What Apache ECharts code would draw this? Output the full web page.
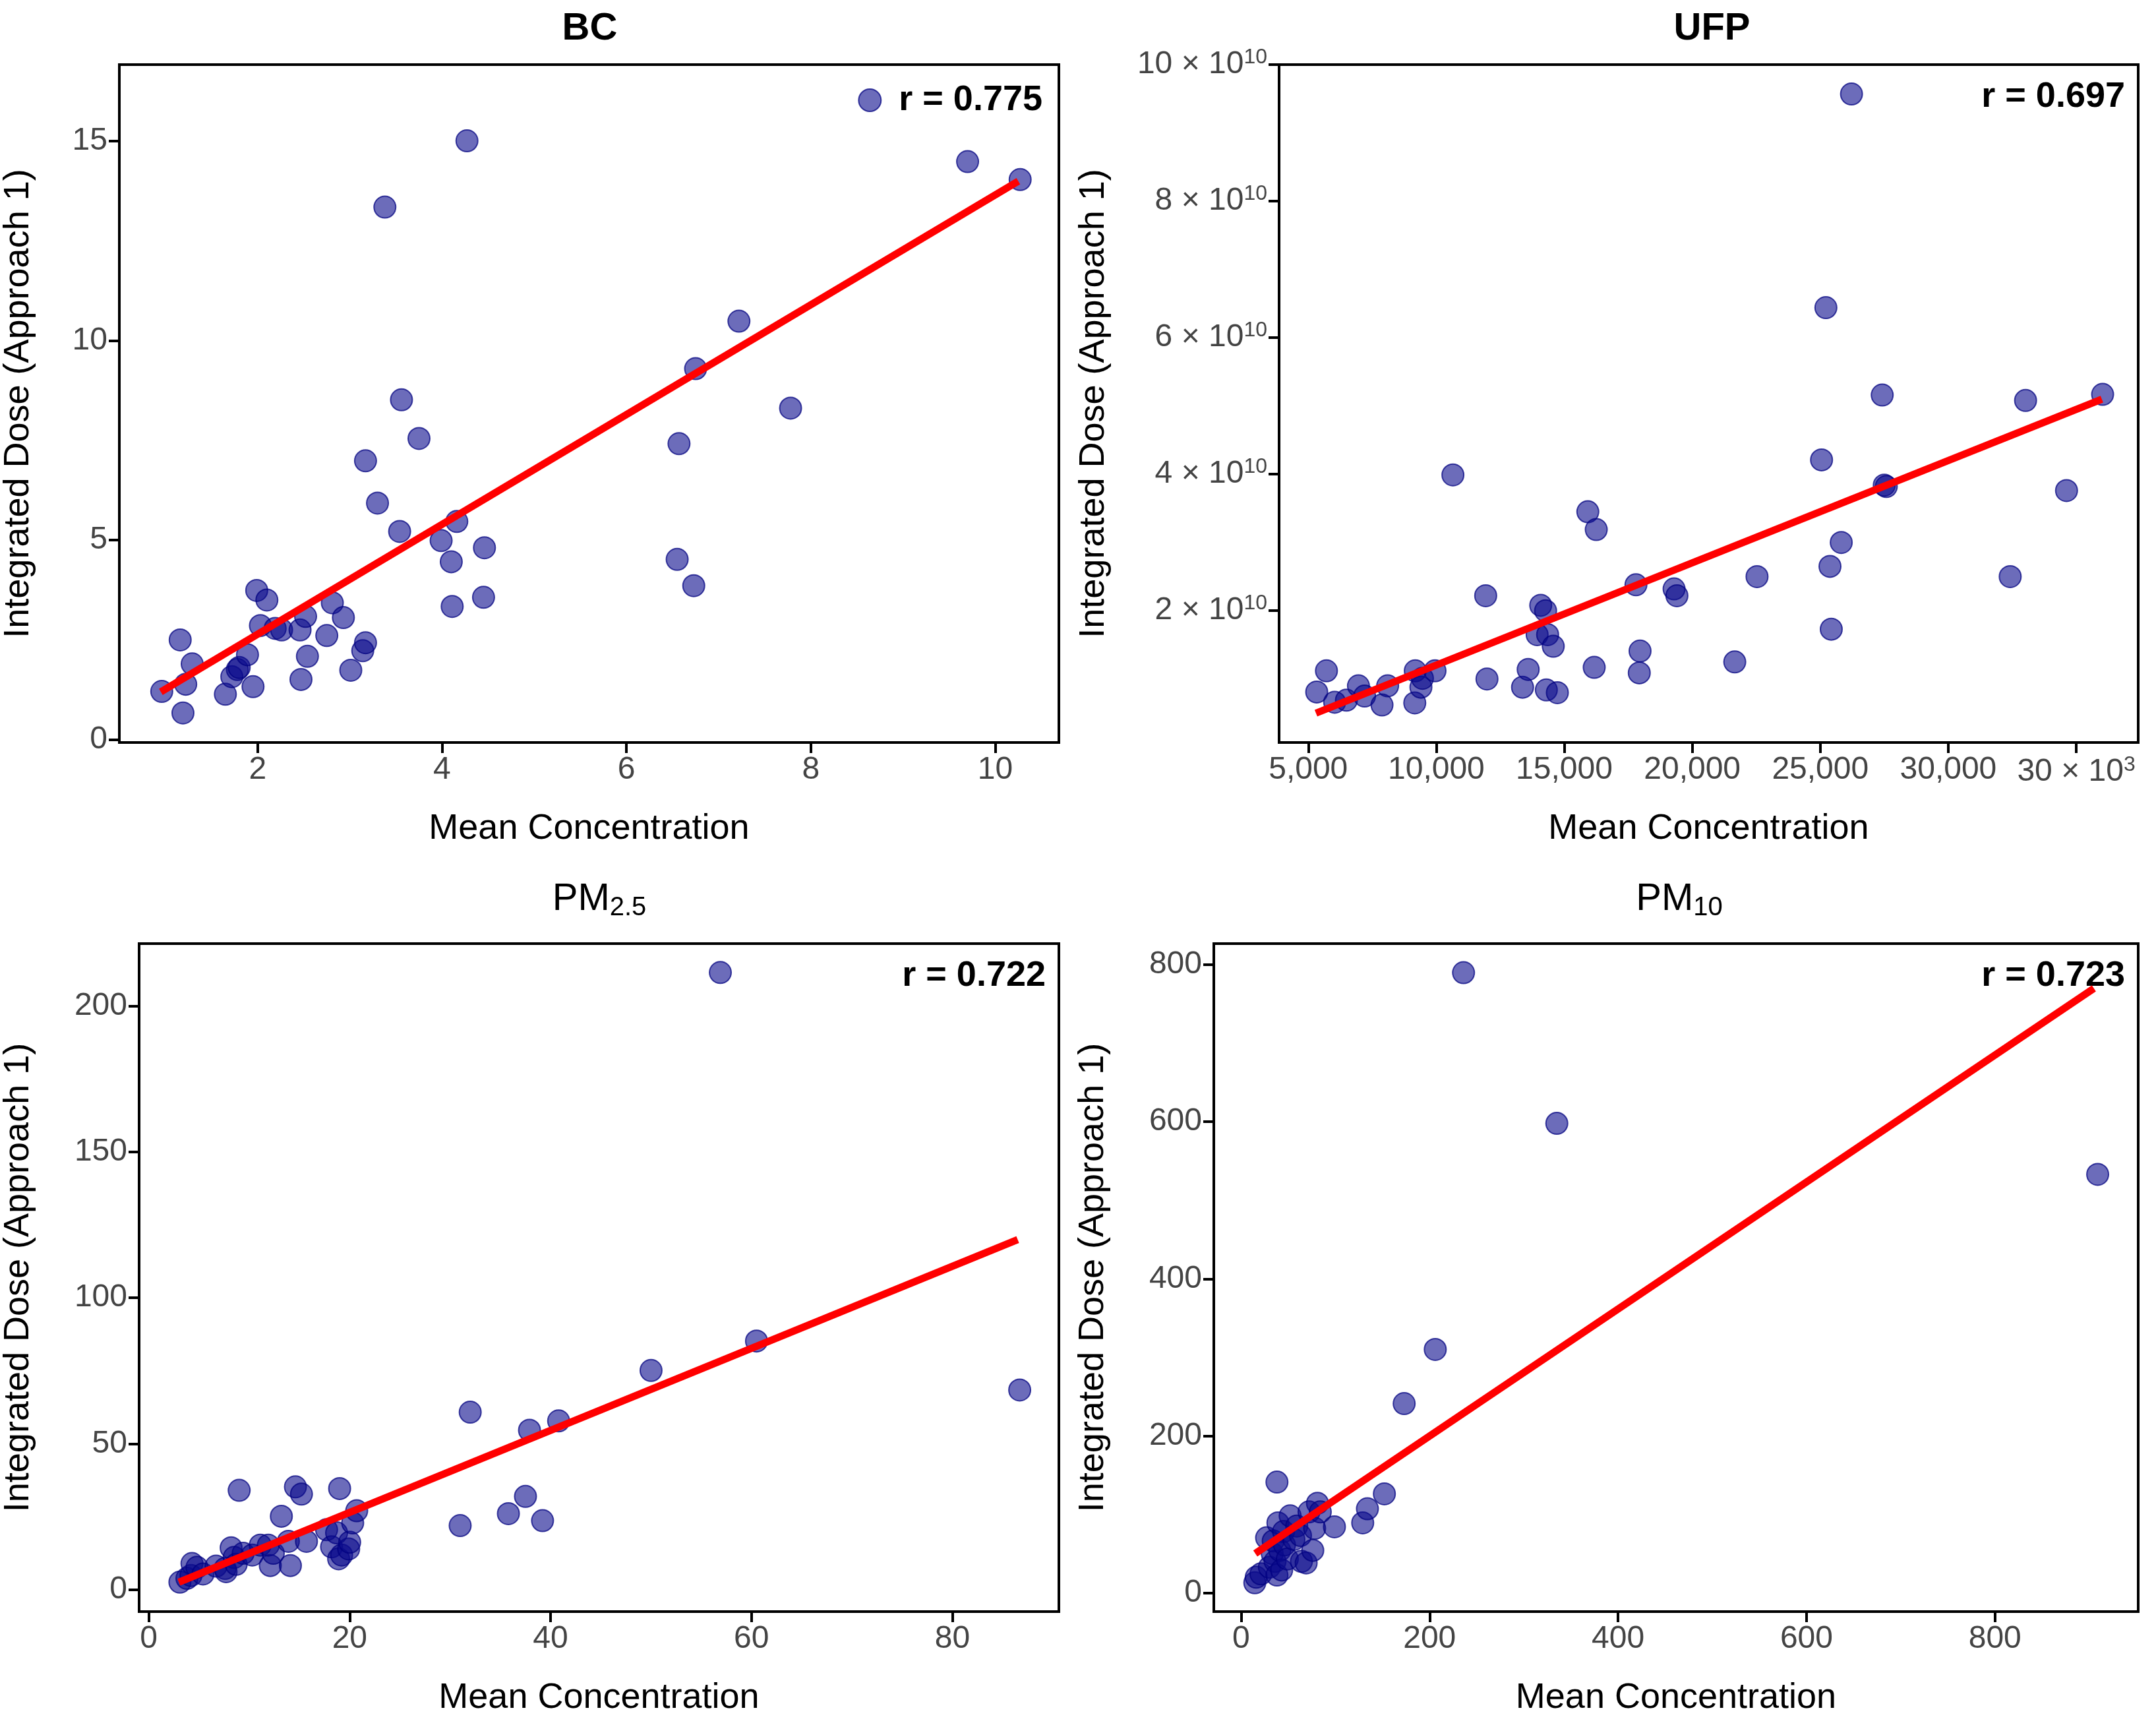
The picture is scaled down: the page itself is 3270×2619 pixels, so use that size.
<!DOCTYPE html>
<html>
<head>
<meta charset="utf-8">
<script src="https://cdn.jsdelivr.net/npm/echarts@6/dist/echarts.min.js"></script>
<style>html,body{margin:0;padding:0;background:#fff}#chart{width:3270px;height:2619px}</style>
</head>
<body>
<div id="chart"></div>
<script>
const FONT = 'Liberation Sans'

// [mean concentration, integrated dose]
const bc = [[0.96,1.21],[1.16,2.5],[1.19,0.67],[1.22,1.39],[1.29,1.9],[1.65,1.14],[1.72,1.58],[1.78,1.76],[1.8,1.81],[1.89,2.13],[1.95,1.33],[1.99,3.74],[2.03,2.86],[2.1,3.5],[2.19,2.79],[2.26,2.75],[2.46,2.75],[2.47,1.51],[2.52,3.09],[2.54,2.09],[2.75,2.61],[2.81,3.43],[2.93,3.06],[3.01,1.74],[3.14,2.23],[3.17,2.43],[3.17,6.99],[3.3,5.93],[3.38,13.35],[3.54,5.22],[3.56,8.52],[3.75,7.55],[3.99,4.99],[4.1,4.46],[4.11,3.34],[4.16,5.47],[4.27,15.01],[4.45,3.57],[4.46,4.81],[6.55,4.52],[6.57,7.42],[6.73,3.86],[6.75,9.3],[7.22,10.49],[7.78,8.31],[9.7,14.49],[10.27,14.04]]

const ufp = [[5330,0.81],[5710,1.12],[6030,0.66],[6490,0.69],[6960,0.9],[7200,0.75],[7880,0.62],[8100,0.9],[9160,0.65],[9180,1.12],[9400,0.88],[9460,1.01],[9950,1.12],[10650,3.99],[11930,2.22],[11980,1.0],[13370,0.88],[13590,1.14],[13940,1.65],[14080,2.08],[14270,2.0],[14300,0.84],[14350,1.65],[14570,1.48],[14730,0.8],[15920,3.45],[16170,1.17],[16250,3.19],[17800,2.38],[17930,1.09],[17960,1.41],[19290,2.32],[19400,2.22],[21660,1.25],[22530,2.5],[25050,4.21],[25220,6.44],[25380,2.65],[25430,1.73],[25820,3.0],[26220,9.57],[27420,5.16],[27500,3.84],[27580,3.82],[32420,2.5],[33020,5.08],[34620,3.76],[36030,5.17]].map(d => [d[0], d[1] * 1e10])

const pm25 = [[3.1,2.5],[3.8,3.8],[4.2,4.8],[4.3,8.9],[4.8,7.6],[5.4,5.3],[6.7,8.0],[7.6,7.2],[7.7,6.1],[8.2,14.3],[8.5,11.0],[8.7,8.6],[9.0,34.0],[9.4,12.4],[10.3,11.8],[11.1,15.2],[11.9,15.2],[12.1,8.2],[12.4,12.4],[13.2,25.1],[13.9,16.5],[14.1,8.2],[14.6,35.2],[15.2,32.7],[15.7,16.5],[17.7,20.5],[18.2,14.6],[18.7,19.4],[18.9,10.5],[19.0,34.6],[19.2,11.8],[19.9,13.9],[20.0,16.2],[20.3,22.8],[20.7,27.0],[31.0,21.9],[32.0,60.8],[35.8,26.0],[37.5,31.9],[37.9,54.6],[39.2,23.6],[40.8,57.8],[50.0,75.1],[60.5,85.2],[56.9,211.6],[86.7,68.4]]

const pm10 = [[14.5,12.7],[16,19.8],[21,24],[27,70],[30,32.5],[33,50],[34,66],[36,40],[38,22.6],[38,141],[39,89],[41,54],[43,29],[45,78],[46,61],[49,43],[52,98],[56,68],[59,85],[63,73],[64,40],[69,38],[72,103],[76,54],[78,82],[81,114],[84,103],[99,84],[129,89],[134,107],[152,126],[173,241],[206,310],[236,790],[335,598],[909,533]]

// regression line end points
const panels = [
  { title: '{b|BC}', data: bc, fit: [[0.95,1.2],[10.25,14.0]], r: 'r = 0.775',
    grid: { left: 173, right: 1664, top: 98, bottom: 1493 }, titleTop: 10,
    x: { min: 0.5, max: 10.69 }, y: { min: -0.07, max: 16.92 }, yGap: 126, yTicks: [0,5,10,15], xTicks: [2,4,6,8,10] },
  { title: '{b|UFP}', data: ufp, fit: [[5300,0.5e10],[36000,5.1e10]], r: 'r = 0.697',
    grid: { left: 1940, right: 27, top: 98, bottom: 1493 }, titleTop: 10,
    x: { min: 3860, max: 37420 }, y: { min: 0.07e10, max: 1e11 }, yGap: 254,
    xTicks: [5000,10000,15000,20000,25000,30000,35000], yTicks: [2e10,4e10,6e10,8e10,1e11] },
  { title: 'PM{s|2.5}', data: pm25, fit: [[3,2.5],[86.5,120]], r: 'r = 0.722',
    grid: { left: 202, right: 1664, top: 1431, bottom: 175 }, titleTop: 1326,
    x: { min: -0.96, max: 90.6 }, y: { min: -7.6, max: 221.5 }, yGap: 156,
    xTicks: [0,20,40,60,80], yTicks: [0,50,100,150,200] },
  { title: 'PM{s|10}', data: pm10, fit: [[15,50],[905,770]], r: 'r = 0.723',
    grid: { left: 1841, right: 27, top: 1431, bottom: 175 }, titleTop: 1326,
    x: { min: -29, max: 952 }, y: { min: -24, max: 827 }, yGap: 156,
    xTicks: [0,200,400,600,800], yTicks: [0,200,400,600,800] }
]

function xLabel(v, i) {
  if (i === 1) {
    if (v === 35000) return '30 × 10{sup|3}'
    return v.toLocaleString('en-US')
  }
  return String(v)
}
function yLabel(v, i) {
  if (i === 1) return (v / 1e10) + ' × 10{sup|10}'
  return String(v)
}

const labelRich = { sup: { fontFamily: FONT, fontSize: 32, color: '#444', verticalAlign: 'top', padding: [0, 0, 22, 0] } }

const axisBase = {
  axisLine: { show: true, onZero: false, lineStyle: { color: '#000', width: 4 } },
  axisTick: { show: true, length: 16, lineStyle: { color: '#000', width: 4 } },
  splitLine: { show: false },
  nameTextStyle: { fontFamily: FONT, fontSize: 54, color: '#000' }
}

const option = {
  backgroundColor: '#fff',
  animation: false,
  title: panels.map(p => ({
    text: p.title,
    left: p.grid.left + (3270 - p.grid.left - p.grid.right) / 2,
    textAlign: 'center',
    top: p.titleTop,
    textStyle: {
      fontFamily: FONT, fontSize: 58, fontWeight: 'normal', color: '#000',
      rich: {
        b: { fontFamily: FONT, fontSize: 58, fontWeight: 'bold', color: '#000' },
        s: { fontFamily: FONT, fontSize: 40, color: '#000', verticalAlign: 'bottom', padding: [26, 0, 0, 0] }
      }
    }
  })),
  legend: {
    data: ['r = 0.775'], right: 1684, top: 120, itemWidth: 34, itemHeight: 34,
    textStyle: { fontFamily: FONT, fontSize: 54, fontWeight: 'bold', color: '#000', padding: [0, 0, 0, 22] }
  },
  graphic: panels.slice(1).map(p => ({
    type: 'text', right: p.grid.right + 20, top: p.grid.top + 22,
    style: { text: p.r, fontFamily: FONT, fontSize: 54, fontWeight: 'bold', fill: '#000' }
  })),
  grid: panels.map(p => Object.assign({ show: true, borderColor: '#000', borderWidth: 4, backgroundColor: 'transparent' }, p.grid)),
  xAxis: panels.map((p, i) => Object.assign({}, axisBase, {
    type: 'value', gridIndex: i, min: p.x.min, max: p.x.max,
    name: 'Mean Concentration', nameLocation: 'middle', nameGap: 104,
    axisLabel: { customValues: p.xTicks, fontFamily: FONT, fontSize: 48, color: '#444', margin: 18, formatter: v => xLabel(v, i), rich: labelRich },
    axisTick: Object.assign({}, axisBase.axisTick, { customValues: p.xTicks })
  })),
  yAxis: panels.map((p, i) => Object.assign({}, axisBase, {
    type: 'value', gridIndex: i, min: p.y.min, max: p.y.max,
    name: 'Integrated Dose (Approach 1)', nameLocation: 'middle', nameGap: p.yGap,
    axisLabel: { customValues: p.yTicks, fontFamily: FONT, fontSize: 48, color: '#444', margin: 18, formatter: v => yLabel(v, i), rich: labelRich },
    axisTick: Object.assign({}, axisBase.axisTick, { customValues: p.yTicks })
  })),
  series: []
}

panels.forEach((p, i) => {
  option.series.push({
    name: i === 0 ? p.r : 'pts' + i,
    type: 'scatter', xAxisIndex: i, yAxisIndex: i, data: p.data, symbolSize: 33,
    itemStyle: { color: 'rgba(10,10,140,0.75)', borderColor: 'rgba(0,0,128,0.9)', borderWidth: 2 }
  })
  option.series.push({
    type: 'line', xAxisIndex: i, yAxisIndex: i, data: p.fit, symbol: 'none',
    lineStyle: { color: '#ff0000', width: 11 }, z: 3
  })
})

const chart = echarts.init(document.getElementById('chart'))
chart.setOption(option)
</script>
</body>
</html>
